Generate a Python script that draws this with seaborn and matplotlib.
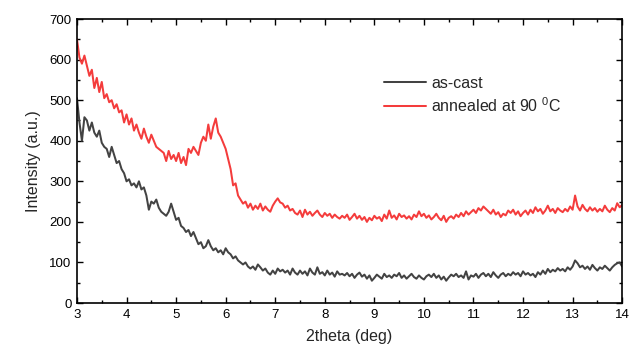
import numpy as np
import pandas as pd
import matplotlib
matplotlib.use("Agg")
import matplotlib.pyplot as plt
import seaborn as sns
from matplotlib.ticker import MultipleLocator

# XRD scans, 2theta from 3 to 14 deg in 0.05 deg steps
as_cast = [
    505, 445, 400, 458, 450, 425, 445, 420, 410, 425,
    395, 385, 380, 360, 385, 365, 345, 350, 330, 320,
    300, 305, 290, 295, 285, 300, 280, 285, 265, 230,
    250, 245, 255, 235, 225, 220, 215, 225, 245, 225,
    205, 210, 190, 185, 175, 180, 165, 175, 160, 145,
    150, 135, 140, 155, 140, 130, 135, 125, 130, 120,
    135, 125, 120, 110, 115, 105, 100, 95, 100, 90,
    85, 90, 82, 95, 88, 80, 85, 75, 70, 80,
    72, 85, 78, 82, 75, 80, 70, 85, 75, 70,
    80, 72, 78, 68, 85, 75, 70, 88, 72, 76,
    68, 80, 70, 75, 65, 78, 70, 72, 68, 74,
    66, 72, 62, 70, 75, 65, 70, 60, 68, 55,
    62, 70, 65, 60, 72, 64, 68, 62, 70, 66,
    74, 62, 68, 60, 66, 72, 64, 60, 68, 62,
    58, 66, 70, 64, 72, 62, 68, 58, 65, 55,
    63, 70, 66, 72, 64, 68, 62, 78, 58, 68,
    65, 72, 62, 70, 74, 66, 72, 64, 76, 68,
    62, 70, 74, 66, 72, 68, 76, 70, 74, 66,
    78, 70, 74, 68, 72, 64, 76, 70, 80, 72,
    84, 76, 82, 78, 86, 80, 84, 78, 88, 82,
    90, 105, 98, 88, 92, 84, 90, 82, 94, 86,
    80, 88, 84, 92, 86, 80, 88, 94, 98, 100,
    90,
]

annealed = [
    650, 605, 590, 610, 585, 560, 575, 530, 555, 520,
    545, 505, 515, 495, 500, 480, 490, 470, 475, 445,
    465, 440, 455, 425, 440, 420, 405, 430, 410, 395,
    415, 400, 385, 380, 375, 370, 350, 375, 355, 365,
    350, 370, 345, 360, 340, 380, 370, 385, 375, 365,
    395, 410, 400, 440, 405, 435, 455, 420, 410, 395,
    380, 355, 330, 290, 295, 265, 255, 245, 250, 235,
    245, 230, 240, 232, 245, 228, 238, 230, 225, 240,
    250, 258, 248, 245, 235, 240, 228, 232, 222, 218,
    228, 212, 230, 218, 225, 215, 222, 228, 218, 212,
    222, 215, 220, 210, 218, 212, 208, 215, 210, 218,
    205, 212, 220, 208, 215, 205, 212, 200, 210, 204,
    215, 208, 212, 202, 218, 208, 228, 210, 216, 206,
    220, 212, 216, 208, 214, 206, 218, 212, 226, 214,
    220, 210, 216, 206, 212, 220, 210, 204, 215, 200,
    210, 214, 208, 218, 212, 222, 214, 226, 218, 224,
    230, 222, 234, 228, 238, 232, 226, 220, 230, 218,
    224, 212, 220, 216, 228, 222, 230, 218, 226, 214,
    222, 228, 218, 230, 222, 236, 226, 232, 220, 228,
    240, 226, 232, 222, 234, 228, 224, 232, 226, 238,
    230, 265, 238, 228, 242, 232, 226, 236, 228, 234,
    225, 232, 226, 240, 230, 224, 234, 228, 246, 236,
    242,
]

labels = ["as-cast", "annealed at 90 $^{0}$C"]
colors = ["#434343", "#f43c3c"]

two_theta_a = np.linspace(3, 14, len(as_cast))
two_theta_b = np.linspace(3, 14, len(annealed))
df = pd.concat([
    pd.DataFrame({"2theta": two_theta_a, "Intensity": as_cast, "sample": labels[0]}),
    pd.DataFrame({"2theta": two_theta_b, "Intensity": annealed, "sample": labels[1]}),
], ignore_index=True)

sns.set_theme(style="ticks")
plt.rcParams["font.family"] = ["Liberation Sans", "DejaVu Sans"]
plt.rcParams["mathtext.default"] = "regular"

fig = plt.figure(figsize=(6.31, 3.53), dpi=100)
ax = fig.add_axes([0.122, 0.1416, 0.864, 0.8044])

sns.lineplot(data=df, x="2theta", y="Intensity", hue="sample",
             palette=dict(zip(labels, colors)), hue_order=labels,
             estimator=None, linewidth=1.45, ax=ax)

ax.set_xlim(3, 14)
ax.set_ylim(0, 700)
ax.xaxis.set_major_locator(MultipleLocator(1))
ax.xaxis.set_minor_locator(MultipleLocator(0.5))
ax.yaxis.set_major_locator(MultipleLocator(100))
ax.yaxis.set_minor_locator(MultipleLocator(50))
ax.tick_params(which="both", direction="in", top=True, right=True,
               colors="black", labelsize=9.5, width=1.0)
ax.tick_params(which="major", length=4.5, pad=4)
ax.tick_params(which="minor", length=2.5)
for s in ax.spines.values():
    s.set_color("black")
    s.set_linewidth(1.2)

ax.set_xlabel("2theta (deg)", fontsize=11.5, labelpad=6)
ax.set_ylabel("Intensity (a.u.)", fontsize=11.5, labelpad=6)

leg = ax.legend(loc="center left", bbox_to_anchor=(0.552, 0.732), frameon=False,
                fontsize=11.5, handlelength=2.6, handletextpad=0.35,
                labelspacing=0.35, borderaxespad=0)

fig.savefig("out.png", dpi=100)
